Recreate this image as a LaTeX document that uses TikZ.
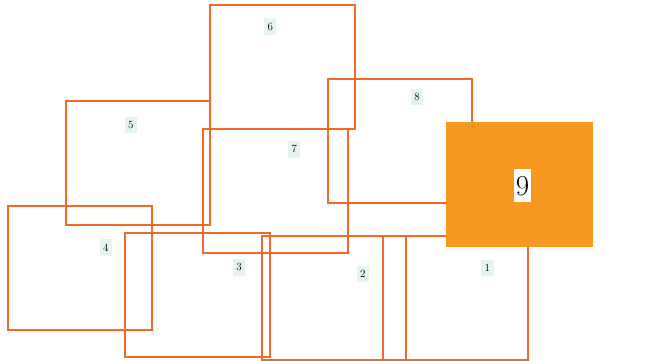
\documentclass[tikz,border=0pt]{standalone}
\definecolor{edgeor}{RGB}{241,106,42}
\definecolor{fillor}{RGB}{247,152,32}
\definecolor{mint}{RGB}{228,245,238}
\tikzset{
  box/.style={draw=edgeor, line width=2.3pt},
  lbl/.style={fill=mint, inner xsep=3.5pt, inner ysep=4.5pt, font=\fontsize{11}{13}\selectfont},
  biglbl/.style={fill=white, inner xsep=2pt, inner ysep=6.5pt, font=\fontsize{29}{31}\selectfont}
}
\begin{document}
\begin{tikzpicture}[x=1pt,y=-1pt]
\useasboundingbox (0,0) rectangle (669,360);
\begin{scope}
\clip (0,0) rectangle (669,360);
\draw[box] (210,5) rectangle (355,129);
\draw[box] (66,101) rectangle (210,225);
\draw[box] (203,129) rectangle (348,253);
\draw[box] (328,79) rectangle (472,203);
\draw[box] (8,206) rectangle (152,330);
\draw[box] (125,233) rectangle (270,357);
\draw[box] (262,236) rectangle (406,360);
\draw[box] (383,236) rectangle (528,360);
\fill[fillor] (446,122) rectangle (593,247);
\end{scope}
\node[lbl] (l6) at (270.3,26.7) {6};
\node[lbl] (l5) at (130.7,125) {5};
\node[lbl] (l7) at (294.3,149.3) {7};
\node[lbl] (l8) at (417,97) {8};
\node[lbl] (l4) at (105.7,247.3) {4};
\node[lbl] (l3) at (239,267.3) {3};
\node[lbl] (l2) at (362.7,274.3) {2};
\node[lbl] (l1) at (487.3,267.7) {1};
\node[biglbl] (l9) at (522.5,185.8) {9};
\end{tikzpicture}
\end{document}
